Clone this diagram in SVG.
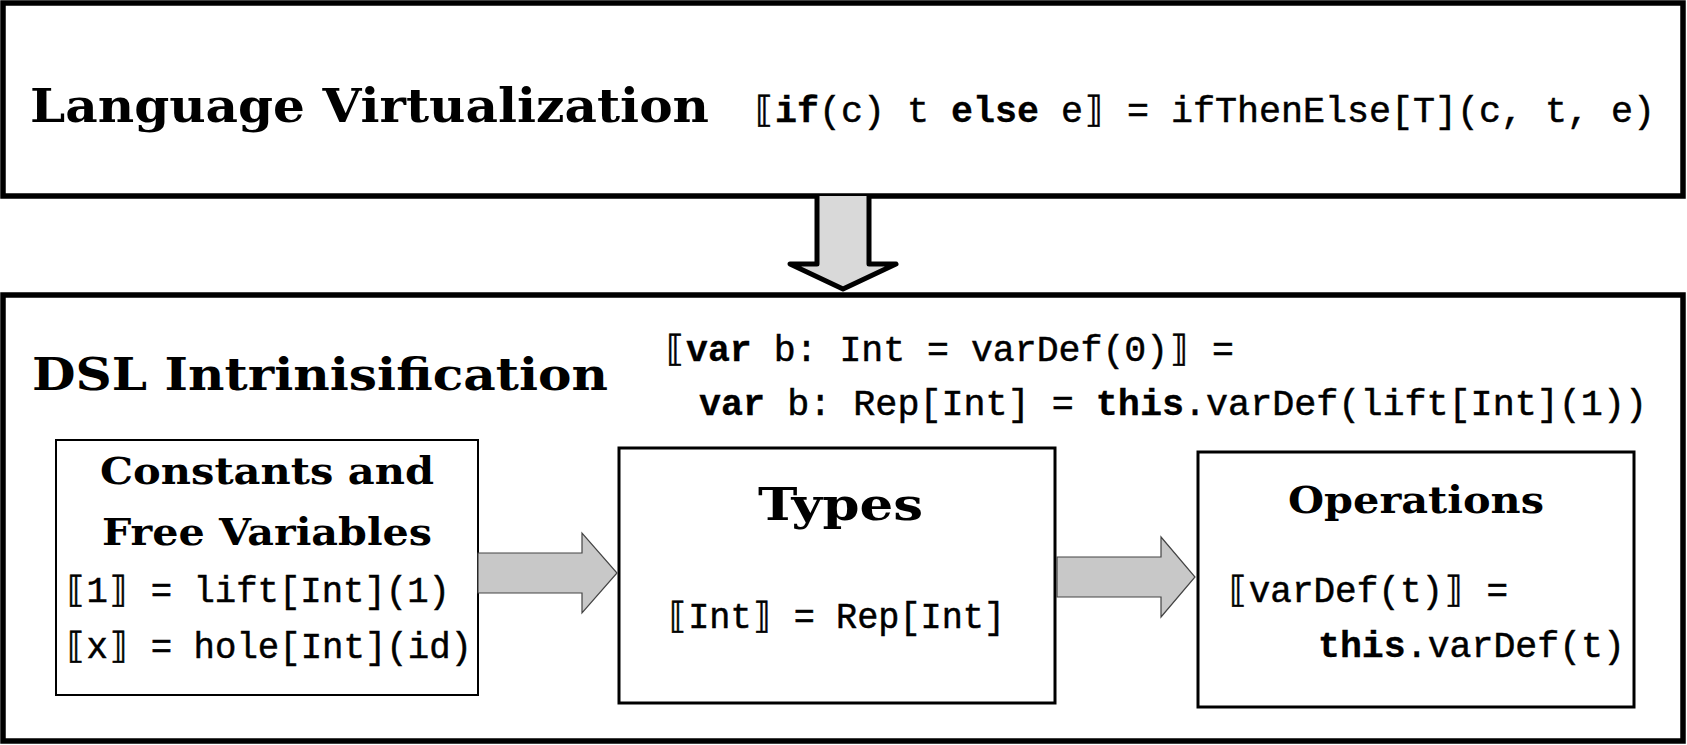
<svg xmlns="http://www.w3.org/2000/svg" width="1687" height="745" viewBox="0 0 1687 745">
<style>
.outer{fill:#fff;stroke:#000;stroke-width:5.5}
.inner{fill:#fff;stroke:#000;stroke-width:2.5}
.head{font-family:"DejaVu Serif","Liberation Serif",serif;font-weight:bold;fill:#000}
.code{font-family:"Liberation Mono","DejaVu Sans Mono",monospace;font-size:36px;fill:#000;stroke:#000;stroke-width:0.5}
.b{font-weight:bold;stroke-width:0.3}
.flow{fill:#c8c8c8;stroke:#444;stroke-width:1.2}
.down{fill:#d9d9d9;stroke:#000;stroke-width:5;stroke-linejoin:round}
</style>
<rect width="1687" height="745" fill="#fff"/>
<g id="language-virtualization">
<rect class="outer" x="3" y="3" width="1680" height="193"/>
<text class="head" x="30" y="122" font-size="47" textLength="679" lengthAdjust="spacingAndGlyphs">Language Virtualization</text>
<text class="code" x="753" y="122" textLength="902" lengthAdjust="spacingAndGlyphs">⟦<tspan class="b">if</tspan>(c) t <tspan class="b">else</tspan> e⟧ = ifThenElse[T](c, t, e)</text>
</g>
<g id="dsl-intrinsification">
<rect class="outer" x="3" y="295" width="1680" height="446"/>
<text class="head" x="32" y="390" font-size="45" textLength="576" lengthAdjust="spacingAndGlyphs">DSL Intrinisification</text>
<text class="code" x="664" y="361" textLength="570" lengthAdjust="spacingAndGlyphs">⟦<tspan class="b">var</tspan> b: Int = varDef(0)⟧ =</text>
<text class="code" x="699" y="415" textLength="948" lengthAdjust="spacingAndGlyphs"><tspan class="b">var</tspan> b: Rep[Int] = <tspan class="b">this</tspan>.varDef(lift[Int](1))</text>
</g>
<g id="constants">
<rect class="inner" x="56" y="440" width="422" height="255" style="stroke-width:2"/>
<text class="head" x="100" y="484" font-size="38" textLength="334" lengthAdjust="spacingAndGlyphs">Constants and</text>
<text class="head" x="102" y="545" font-size="38" textLength="330" lengthAdjust="spacingAndGlyphs">Free Variables</text>
<text class="code" x="65" y="602" textLength="385" lengthAdjust="spacingAndGlyphs">⟦1⟧ = lift[Int](1)</text>
<text class="code" x="65" y="658" textLength="407" lengthAdjust="spacingAndGlyphs">⟦x⟧ = hole[Int](id)</text>
</g>
<g id="types">
<rect class="inner" x="619" y="448" width="436" height="255" style="stroke-width:3"/>
<text class="head" x="758" y="520" font-size="45" textLength="165" lengthAdjust="spacingAndGlyphs">Types</text>
<text class="code" x="667" y="628" textLength="338" lengthAdjust="spacingAndGlyphs">⟦Int⟧ = Rep[Int]</text>
</g>
<g id="operations">
<rect class="inner" x="1198" y="452" width="436" height="255" style="stroke-width:3"/>
<text class="head" x="1288" y="513" font-size="38" textLength="256" lengthAdjust="spacingAndGlyphs">Operations</text>
<text class="code" x="1227" y="602" textLength="281" lengthAdjust="spacingAndGlyphs">⟦varDef(t)⟧ =</text>
<text class="code" x="1318" y="657" textLength="307" lengthAdjust="spacingAndGlyphs"><tspan class="b">this</tspan>.varDef(t)</text>
</g>
<g id="connectors">
<path class="down" d="M817,196 L817,264 L790,264 L843,289 L896,264 L869,264 L869,196"/>
<path class="flow" d="M478,553 L582,553 L582,533 L617,573 L582,613 L582,593 L478,593 Z"/>
<path class="flow" d="M1057,557 L1161,557 L1161,537 L1195,577 L1161,617 L1161,597 L1057,597 Z"/>
</g>
</svg>
